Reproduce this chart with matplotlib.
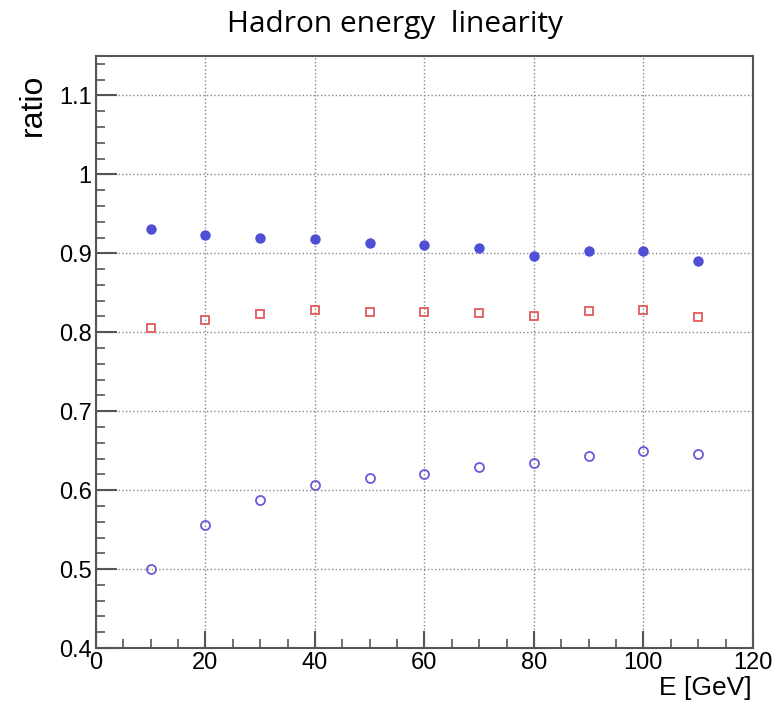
import matplotlib.pyplot as plt
from matplotlib.ticker import MultipleLocator

# beam energy (GeV)
energy = [10, 20, 30, 40, 50, 60, 70, 80, 90, 100, 110]

# response ratios
ratio_filled = [0.931, 0.923, 0.920, 0.918, 0.913, 0.911, 0.907, 0.896, 0.903, 0.903, 0.890]
ratio_square = [0.805, 0.816, 0.823, 0.828, 0.826, 0.826, 0.824, 0.821, 0.827, 0.828, 0.819]
ratio_open = [0.500, 0.556, 0.587, 0.607, 0.615, 0.620, 0.629, 0.635, 0.643, 0.649, 0.646]

fig = plt.figure(figsize=(7.81, 7.08), dpi=100)
ax = fig.add_axes([0.1229, 0.0847, 0.8411, 0.8363])

ax.plot(energy, ratio_filled, 'o', color='#4f4fd6', markersize=7.5, markeredgewidth=0)
ax.plot(energy, ratio_square, 's', color='#e05a5a', markersize=6, markerfacecolor='none', markeredgewidth=1.3)
ax.plot(energy, ratio_open, 'o', color='#6a5ad8', markersize=6.5, markerfacecolor='none', markeredgewidth=1.3)

ax.set_xlim(0, 120)
ax.set_ylim(0.4, 1.15)
ax.xaxis.set_major_locator(MultipleLocator(20))
ax.xaxis.set_minor_locator(MultipleLocator(5))
ax.yaxis.set_major_locator(MultipleLocator(0.1))
ax.yaxis.set_minor_locator(MultipleLocator(0.02))
ax.set_yticks([0.4, 0.5, 0.6, 0.7, 0.8, 0.9, 1.0, 1.1])
ax.set_yticklabels(['0.4', '0.5', '0.6', '0.7', '0.8', '0.9', '1', '1.1'])

ax.grid(True, which='major', linestyle=':', color='#888888', linewidth=1)
ax.tick_params(which='both', direction='in', color='#555555', top=False, right=False)
ax.tick_params(which='major', width=1.5, labelsize=17, pad=3)
ax.tick_params(axis='y', which='major', length=15)
ax.tick_params(axis='x', which='major', length=12.5)
ax.tick_params(which='minor', length=6.8, width=1.2)
for lab in ax.get_xticklabels() + ax.get_yticklabels():
    lab.set_family('Liberation Sans')
for sp in ax.spines.values():
    sp.set_color('#555555')
    sp.set_linewidth(1.5)

fig.text(0.506, 0.966, 'Hadron energy  linearity', ha='center', va='center',
         fontsize=21.5, family='Open Sans')
fig.text(0.042, 0.852, 'ratio', rotation=90, ha='center', va='center',
         fontsize=23, family='Liberation Sans')
fig.text(0.963, 0.028, 'E [GeV]', ha='right', va='center',
         fontsize=19, family='Liberation Sans')

fig.savefig('out.png', dpi=100)
